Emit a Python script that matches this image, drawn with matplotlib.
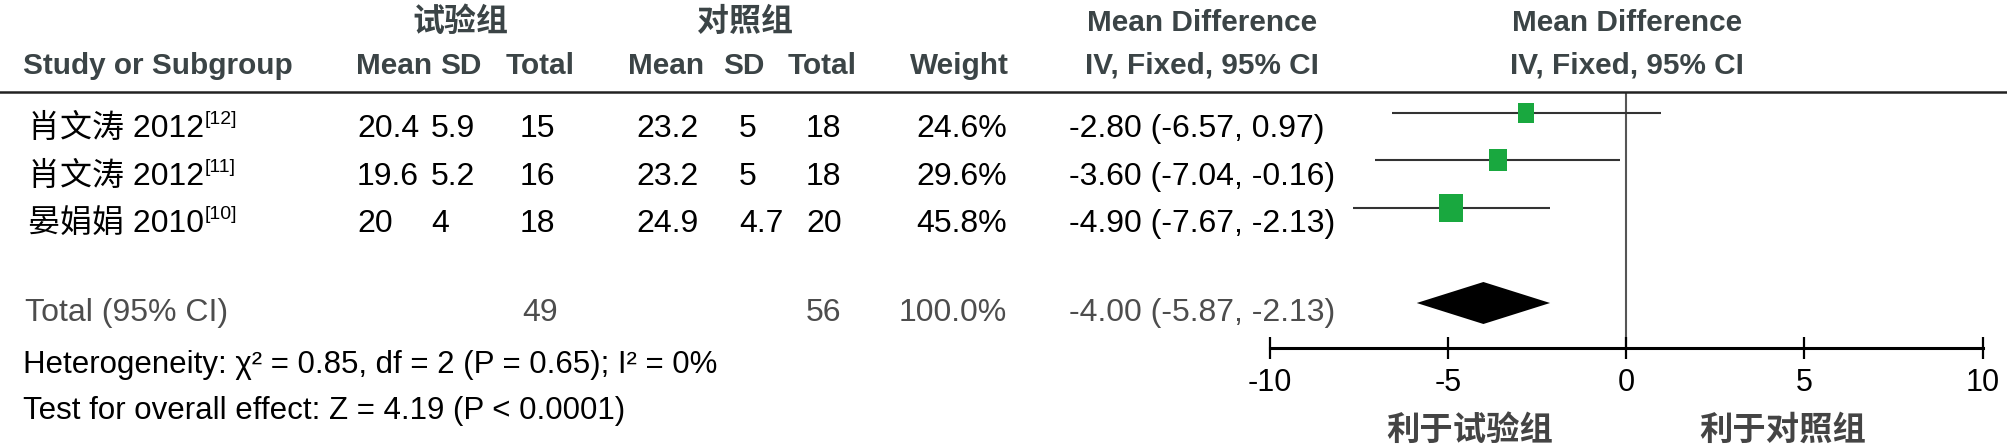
import matplotlib
matplotlib.use("Agg")
import matplotlib.pyplot as plt
from matplotlib import font_manager
from matplotlib.lines import Line2D

# ---- data ----
studies = ["肖文涛 2012", "肖文涛 2012", "晏娟娟 2010"]
refs = ["[12]", "[11]", "[10]"]
exp_mean = [20.4, 19.6, 20]
exp_sd = [5.9, 5.2, 4]
exp_n = [15, 16, 18]
ctl_mean = [23.2, 23.2, 24.9]
ctl_sd = [5, 5, 4.7]
ctl_n = [18, 18, 20]
weights = [24.6, 29.6, 45.8]
md = [-2.80, -3.60, -4.90]
ci_lo = [-6.57, -7.04, -7.67]
ci_hi = [0.97, -0.16, -2.13]
total_md, total_lo, total_hi = -4.00, -5.87, -2.13
total_exp_n, total_ctl_n = 49, 56
total_weight = 100.0
xticks = [-10, -5, 0, 5, 10]

# ---- fonts ----
names = {f.name for f in font_manager.fontManager.ttflist}
BODY = "Liberation Sans"
NARROW = "Liberation Sans Narrow" if "Liberation Sans Narrow" in names else BODY
CJK = "Noto Sans CJK SC"
plt.rcParams["font.family"] = [BODY, CJK]

W, H = 2008, 444
fig = plt.figure(figsize=(W / 100, H / 100), dpi=100)

HEAD = "#3b4446"
GREEN = "#19a83f"


def ftext(x, y, s, **kw):
    # x, y in pixels from the top-left corner
    kw.setdefault("va", "baseline")
    return fig.text(x / W, 1 - y / H, s, **kw)


# ---- header ----
head_kw = dict(fontsize=21.4, fontweight="bold", color=HEAD, family=[BODY, CJK])
cjk_head = dict(fontsize=23, fontweight="bold", color=HEAD, family=[CJK])
ftext(460, 31, "试验组", ha="center", **cjk_head)
ftext(745, 31, "对照组", ha="center", **cjk_head)
ftext(1202, 31, "Mean Difference", ha="center", **head_kw)
ftext(1627, 31, "Mean Difference", ha="center", **head_kw)
ftext(23, 74, "Study or Subgroup", ha="left", **head_kw)
for xc, s in [(394, "Mean"), (461, "SD"), (540, "Total"),
              (666, "Mean"), (744, "SD"), (822, "Total"),
              (959, "Weight"), (1202, "IV, Fixed, 95% CI"),
              (1627, "IV, Fixed, 95% CI")]:
    ftext(xc, 74, s, ha="center", **head_kw)

fig.add_artist(Line2D([0, 1], [1 - 92 / H] * 2, transform=fig.transFigure,
                      color="#222222", lw=1.8))

# ---- study rows ----
row_kw = dict(fontsize=23, color="black", family=[BODY, CJK])
for i in range(len(studies)):
    yb = 137 + i * 47.5
    t = ftext(28, yb, studies[i], ha="left", **row_kw)
    # 上付きの文献番号（ラベルの右上に付ける）
    fig.add_artist(matplotlib.text.Annotation(
        refs[i], xy=(1, 1), xycoords=t, xytext=(0.5, 2), textcoords="offset points",
        ha="left", va="top", fontsize=14, color="black", family=[BODY]))
    ftext(357, yb, str(exp_mean[i]), ha="left", **row_kw)
    ftext(431, yb, str(exp_sd[i]), ha="left", **row_kw)
    ftext(520, yb, str(exp_n[i]), ha="left", **row_kw)
    ftext(636, yb, str(ctl_mean[i]), ha="left", **row_kw)
    ftext(739, yb, str(ctl_sd[i]), ha="left", **row_kw)
    ftext(806, yb, str(ctl_n[i]), ha="left", **row_kw)
    ftext(1007, yb, f"{weights[i]:.1f}%", ha="right", **row_kw)
    ftext(1069, yb, f"{md[i]:.2f} ({ci_lo[i]:.2f}, {ci_hi[i]:.2f})",
          ha="left", **row_kw)

# ---- total row ----
tot_kw = dict(fontsize=23, color="#4d4d4d", family=[BODY, CJK])
ftext(25, 321, "Total (95% CI)", ha="left", **tot_kw)
ftext(522, 321, str(total_exp_n), ha="left", **tot_kw)
ftext(806, 321, str(total_ctl_n), ha="left", **tot_kw)
ftext(1007, 321, f"{total_weight:.1f}%", ha="right", **tot_kw)
ftext(1069, 321, f"{total_md:.2f} ({total_lo:.2f}, {total_hi:.2f})",
      ha="left", **tot_kw)

foot_kw = dict(fontsize=22.5, color="black", family=[NARROW, BODY])
ftext(23, 373, "Heterogeneity: χ² = 0.85, df = 2 (P = 0.65); I² = 0%",
      ha="left", **foot_kw)
ftext(23, 419, "Test for overall effect: Z = 4.19 (P < 0.0001)",
      ha="left", **foot_kw)

# ---- forest panel ----
px_unit = 35.65
x0 = 1626
left = x0 - 10.5 * px_unit
right = x0 + 10.5 * px_unit
top, bottom = 92, 348
ax = fig.add_axes([left / W, 1 - bottom / H, (right - left) / W, (bottom - top) / H])
ax.set_xlim(-10.5, 10.5)
row_px = 47.5
first = 113
ax.set_ylim((bottom - first) / row_px, (top - first) / row_px)
ax.patch.set_alpha(0)

rows = list(range(len(studies)))
ax.axvline(0, color="#555555", lw=1.5, zorder=1)
ax.hlines(rows, ci_lo, ci_hi, color="#333333", lw=1.5, zorder=2)
box = [(-0.415, -0.5), (0.415, -0.5), (0.415, 0.5), (-0.415, 0.5), (-0.415, -0.5)]
for r, m, w in zip(rows, md, weights):
    ax.plot(m, r, marker=box, markersize=3.0 * w ** 0.5 - 0.3,
            color=GREEN, markeredgewidth=0, zorder=3)

total_row = len(studies) + 1
half = 21 / row_px
ax.fill([total_lo, total_md, total_hi, total_md],
        [total_row, total_row - half, total_row, total_row + half],
        color="black", lw=0, zorder=3)

for side in ["top", "left", "right"]:
    ax.spines[side].set_visible(False)
ax.spines["bottom"].set_linewidth(2.2)
ax.spines["bottom"].set_bounds(-10, 10)
ax.set_yticks([])
ax.set_xticks(xticks)
ax.set_xticklabels([str(t) for t in xticks])
ax.tick_params(axis="x", direction="inout", length=16.5, width=1.6,
               labelsize=22, pad=6, colors="black")
for lab in ax.get_xticklabels():
    lab.set_family([NARROW, BODY])

bot_kw = dict(fontsize=24, fontweight="bold", color="#444444", family=[CJK],
              ha="center", va="center")
ftext(1470, 430, "利于试验组", **bot_kw)
ftext(1783, 430, "利于对照组", **bot_kw)

fig.savefig("out.png", dpi=100)
